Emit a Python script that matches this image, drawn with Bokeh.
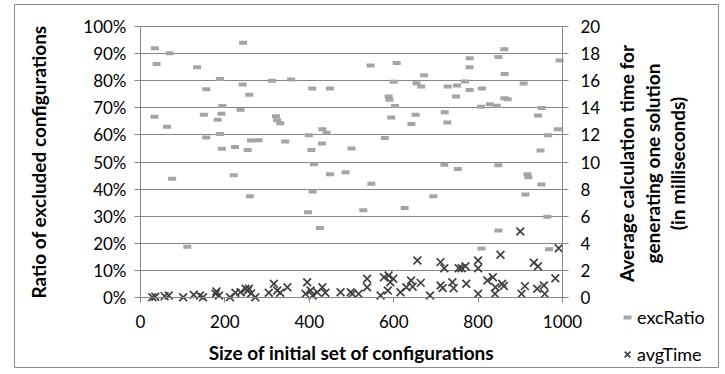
import math
from bokeh.plotting import figure
from bokeh.models import (Range1d, LinearAxis, NumeralTickFormatter, FixedTicker, Legend,
                          LegendItem, Label, Grid)
from bokeh.embed import file_html
from bokeh.resources import INLINE

# excRatio series (size, ratio in %)
ratio_x = [34, 69, 38, 243, 134, 188, 156, 242, 258, 312, 357, 407, 449, 33, 63, 150, 194, 192, 183, 237,
           321, 324, 331, 156, 188, 193, 224, 254, 262, 280, 343, 399, 431, 441, 430, 405, 500,
           545, 607, 600, 654, 665, 672, 588, 590, 603, 594, 652, 642, 728, 750, 769, 780, 780, 780,
           809, 848, 862, 863, 748, 721, 727, 807, 828, 844, 862, 870, 908, 951, 942, 993, 579, 966,
           989, 948,
           75, 111, 221, 259, 411, 408, 397, 425, 449, 486, 547, 528, 626, 694, 720, 752, 848, 917,
           919, 950, 912, 964, 848, 808, 968]
ratio_y = [92.0, 90.1, 86.2, 94.0, 85.0, 80.6, 76.8, 78.6, 74.8, 80.0, 80.4, 77.1, 77.1, 66.7, 63.0, 67.4,
           70.7, 67.8, 65.6, 69.3, 66.9, 65.4, 64.3, 59.0, 60.3, 54.9, 55.5, 54.4, 57.9, 58.0, 57.6, 59.9,
           62.1, 60.8, 56.8, 54.4, 55.0,
           85.6, 86.5, 79.6, 79.1, 77.9, 82.0, 74.2, 73.0, 70.7, 66.4, 67.4, 64.0, 77.9, 78.2, 79.7, 88.3,
           85.0, 76.6, 77.1, 88.7, 91.6, 82.5, 74.2, 68.4, 64.6, 70.4, 71.3, 70.8, 73.5, 73.2, 79.0, 69.9,
           67.2, 87.5, 58.9, 59.9, 62.1, 54.2,
           43.8, 18.7, 45.1, 37.4, 49.2, 39.1, 31.5, 25.6, 45.5, 46.2, 42.0, 32.2, 33.0, 37.4, 49.0, 47.4,
           48.8, 45.5, 44.4, 41.7, 38.0, 29.8, 24.7, 18.1, 17.8]

# avgTime series (size, time in ms)
time_x = [28, 35, 57, 67, 101, 126, 141, 148, 178, 186, 180, 212, 225, 237, 249, 254,
          257, 262, 272, 304, 316, 324, 331, 348, 395, 391, 403, 408, 419, 431, 438, 474, 498,
          502, 517, 537, 537, 569, 577, 588, 592, 599, 586, 616, 630, 641, 645, 664, 656, 686,
          711, 720, 711, 716, 739, 742, 754,
          900, 853, 991, 761, 770, 800, 800, 932, 942, 983, 772, 800, 822, 835, 841, 840, 857,
          861, 903, 911, 940, 956, 958]
time_y = [0.02, 0.05, 0.10, 0.15, 0.02, 0.20, 0.15, 0.02, 0.27, 0.15, 0.44, 0.02, 0.35, 0.39, 0.64, 0.50,
          0.64, 0.30, 0.02, 0.35, 1.01, 0.52, 0.35, 0.76, 1.13, 0.27, 0.52, 0.15, 0.39, 0.76, 0.35, 0.39, 0.39,
          0.27, 0.27, 1.38, 0.76, 0.15, 1.50, 1.62, 1.13, 1.38, 0.52, 0.39, 0.76, 1.25, 0.80, 1.08, 2.73, 0.15,
          2.61, 2.16, 0.89, 0.70, 1.13, 0.69, 2.16,
          4.87, 3.15, 3.64, 2.16, 2.31, 2.73, 2.16, 2.56, 2.31, 1.42, 1.01, 0.27, 1.25, 1.50, 0.76, 0.27, 1.01,
          0.85, 0.27, 0.84, 0.64, 0.89, 0.27]

x_ticks = [0, 200, 400, 600, 800, 1000]
left_ticks = [0, 0.1, 0.2, 0.3, 0.4, 0.5, 0.6, 0.7, 0.8, 0.9, 1.0]
right_ticks = [0, 2, 4, 6, 8, 10, 12, 14, 16, 18, 20]
X_MAX, Y_MAX, T_MAX = 1000, 1.0, 20

x_title = "Size of initial set of configurations"
y_title = "Ratio of excluded configurations"
r_title = ["Average calculation time for", "generating one solution", "(in milliseconds)"]

# ---- layout (pixels) ----
W, H = 720, 370
BOX_L, BOX_T, BOX_R, BOX_B = 14, 4, 718, 367        # chart border = frame
PX0, PX1 = 140, 562                                 # x = 0 .. X_MAX
PY1, PY0 = 26, 297                                  # y = Y_MAX .. 0
kx = (PX1 - PX0) / X_MAX
ky = (PY0 - PY1) / Y_MAX
def fx(px): return (px - PX0) / kx
def fy(py): return (PY0 - py) / ky

FONT = "Lato"
AX = "#868686"
TICK_FS = "17px"
TITLE_FS = "19px"

p = figure(width=W, height=H, output_backend="svg", toolbar_location=None,
           x_range=Range1d(fx(BOX_L), fx(BOX_R)), y_range=Range1d(fy(BOX_B), fy(BOX_T)),
           min_border_left=BOX_L, min_border_top=BOX_T, min_border_right=W - BOX_R,
           min_border_bottom=H - BOX_B)
p.outline_line_color = "#8c8c8c"
p.outline_line_width = 1
p.extra_y_ranges = {"time": Range1d(fy(BOX_B) * T_MAX / Y_MAX, fy(BOX_T) * T_MAX / Y_MAX)}

# grid lines (horizontal only, limited to the data area)
p.xgrid.visible = False
p.ygrid.visible = False
g = Grid(dimension=1, ticker=FixedTicker(ticks=left_ticks), grid_line_color=AX, grid_line_width=1.2)
if hasattr(g, "cross_bounds"):
    g.cross_bounds = (0, X_MAX)
    p.add_layout(g)
else:
    p.segment(x0=[0] * len(left_ticks), x1=[X_MAX] * len(left_ticks), y0=left_ticks, y1=left_ticks,
              line_color=AX, line_width=1.2)

r1 = p.scatter(ratio_x, [v / 100 for v in ratio_y], marker="dash", size=8, line_width=4,
               line_color="#a5a5a5", line_cap="butt")
r2 = p.scatter(time_x, time_y, y_range_name="time", marker="x", size=11, line_width=1.7,
               line_color="#404040")

def style_axis(ax):
    ax.axis_line_color = AX
    ax.major_tick_line_color = AX
    ax.minor_tick_line_color = None
    ax.major_label_text_font = FONT
    ax.major_label_text_font_size = TICK_FS
    ax.major_label_text_color = "black"
    ax.axis_label = None

xa = p.xaxis[0]
style_axis(xa)
xa.fixed_location = 0
xa.bounds = (0, X_MAX)
xa.ticker = FixedTicker(ticks=x_ticks)
xa.major_tick_in = 0
xa.major_tick_out = 5
xa.major_label_standoff = 12

ya = p.yaxis[0]
style_axis(ya)
ya.fixed_location = 0
ya.bounds = (0, Y_MAX)
ya.ticker = FixedTicker(ticks=left_ticks)
ya.formatter = NumeralTickFormatter(format="0%")
ya.major_tick_in = 0
ya.major_tick_out = 6
ya.major_label_standoff = 8

ra = LinearAxis(y_range_name="time", fixed_location=X_MAX, bounds=(0, T_MAX))
style_axis(ra)
ra.ticker = FixedTicker(ticks=right_ticks)
ra.major_tick_in = 5
ra.major_tick_out = 6
ra.major_label_standoff = 12
p.add_layout(ra, "right")

def title_label(x, y, text, angle=0.0):
    return Label(x=x, y=y, text=text, angle=angle, text_align="center", text_baseline="middle",
                 text_font=FONT, text_font_size=TITLE_FS, text_font_style="bold", text_color="black")

p.add_layout(title_label(X_MAX / 2, fy(352), x_title))
p.add_layout(title_label(fx(38), Y_MAX / 2, y_title, math.pi / 2))
for px, line in zip([626, 652, 677], r_title):
    p.add_layout(title_label(fx(px), fy(163), line, math.pi / 2))

legend = Legend(items=[LegendItem(label="excRatio", renderers=[r1]),
                       LegendItem(label="avgTime", renderers=[r2])],
                location=(603, 2), orientation="vertical",
                background_fill_alpha=0, border_line_color=None,
                padding=0, margin=0, spacing=15,
                glyph_width=20, glyph_height=20, label_height=20, label_standoff=0,
                label_text_font=FONT, label_text_font_size="18px", label_text_color="black")
p.add_layout(legend, "center")

open("out.html", "w").write(file_html(p, INLINE))
